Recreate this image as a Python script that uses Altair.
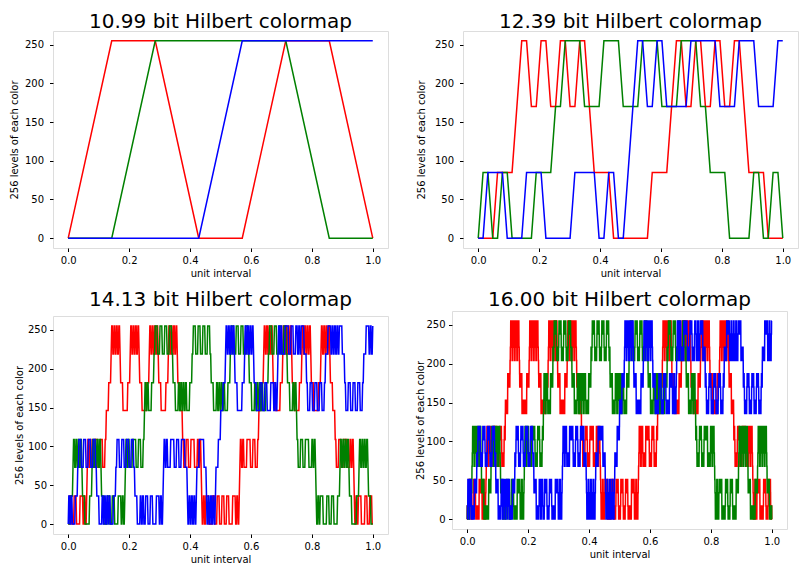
import altair as alt
import pandas as pd

alt.data_transformers.disable_max_rows()

# Panel definitions
titles = ["10.99 bit Hilbert colormap", "12.39 bit Hilbert colormap",
          "14.13 bit Hilbert colormap", "16.00 bit Hilbert colormap"]
orders = [1, 2, 3, 4]          # Hilbert curve order in the RGB cube per panel
x_ticks = [0.0, 0.2, 0.4, 0.6, 0.8, 1.0]
y_ticks = [0, 50, 100, 150, 200, 250]
line_colors = ["red", "green", "blue"]


def hilbert_rgb(order, n=3):
    """Skilling's transpose -> axes for a 3-D Hilbert curve; R=X[2], G=X[1], B=X[0]."""
    N = 1 << order
    total = N ** n
    rows = []
    for h in range(total):
        X = [0] * n
        for b in range(order):
            for j in range(n):
                bit = (h >> (b * n + (n - 1 - j))) & 1
                X[j] |= bit << b
        t = X[n - 1] >> 1
        for i in range(n - 1, 0, -1):
            X[i] ^= X[i - 1]
        X[0] ^= t
        Q = 2
        while Q != N:
            P = Q - 1
            for i in range(n - 1, -1, -1):
                if X[i] & Q:
                    X[0] ^= P
                else:
                    t = (X[0] ^ X[i]) & P
                    X[0] ^= t
                    X[i] ^= t
            Q <<= 1
        s = 255.0 / (N - 1)
        rows.append({"u": h / (total - 1),
                     "r": round(X[2] * s), "g": round(X[1] * s), "b": round(X[0] * s)})
    return pd.DataFrame(rows)


FONT = "DejaVu Sans"


def panel(idx, title_offset, y_title_pad, y_label_pad, height):
    df = hilbert_rgb(orders[idx])
    base = alt.Chart(df)
    xenc = alt.X("u:Q", scale=alt.Scale(domain=[-0.05, 1.05], nice=False, zero=False),
                 axis=alt.Axis(values=x_ticks, format=".1f", title="unit interval",
                               grid=False, tickSize=3.5, labelPadding=4, titlePadding=3,
                               labelFontSize=10, titleFontSize=10, labelFont=FONT, titleFont=FONT,
                               titleFontWeight="normal", labelColor="black", titleColor="black",
                               tickColor="black", domain=False, labelFlush=False))
    layers = []
    for ch, col in zip(["r", "g", "b"], line_colors):
        yenc = alt.Y(f"{ch}:Q", scale=alt.Scale(domain=[-12.75, 267.75], nice=False, zero=False),
                     axis=alt.Axis(values=y_ticks, title="256 levels of each color",
                                   grid=False, tickSize=3.5, labelPadding=y_label_pad,
                                   titlePadding=y_title_pad,
                                   labelFontSize=10, titleFontSize=10, labelFont=FONT, titleFont=FONT,
                                   titleFontWeight="normal", labelColor="black", titleColor="black",
                                   tickColor="black", domain=False, labelFlush=False))
        layers.append(base.mark_line(color=col, strokeWidth=1.5, clip=True).encode(x=xenc, y=yenc))
    return alt.layer(*layers).properties(
        width=335, height=height,
        title=alt.TitleParams(titles[idx], fontSize=20, font=FONT, fontWeight="normal",
                              color="black", anchor="middle", offset=title_offset),
    )


p1 = panel(0, -1, 5, 6, 217)
p2 = panel(1, -1, 8, 6, 217)
p3 = panel(2, 6, 2.5, 3, 218)
p4 = panel(3, 1, 0, 3.5, 218)

# flow layout: each sub-view is placed by its full bounds, not aligned on plot origins
chart = alt.ConcatChart(
    concat=[p1, p2, p3, p4], columns=2, align="none",
    spacing={"row": 10, "column": 26},
).properties(
    padding={"left": 0, "top": 3, "right": 0, "bottom": 0}
).configure_view(stroke="black", strokeWidth=1).configure(background="white")

chart.save("out.html", embed_options={"renderer": "svg", "actions": False})
